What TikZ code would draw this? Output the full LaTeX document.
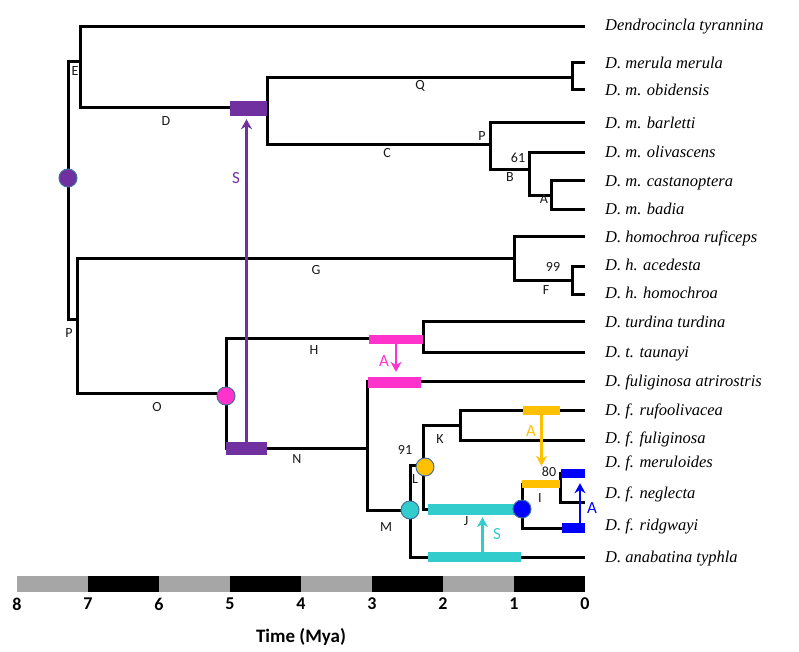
\documentclass[tikz,border=0pt]{standalone}
\usepackage{fontspec}
\setmainfont{Liberation Serif}
\newfontfamily\calfont{Carlito}
\usetikzlibrary{arrows.meta,shapes}
\definecolor{hgtpurple}{HTML}{7030A0}
\definecolor{hgtpink}{HTML}{FF33CC}
\definecolor{hgtgold}{HTML}{FFC000}
\definecolor{hgtteal}{HTML}{33CCCC}
\definecolor{hgtblue}{HTML}{0000FF}
\definecolor{rimblue}{HTML}{41719C}
\definecolor{bargray}{HTML}{A6A6A6}
\tikzstyle{branch}=[draw,line width=3pt,black]
\tikzstyle{taxon}=[anchor=west,inner sep=0pt,text height=11pt,text depth=0pt,font=\fontsize{16.5}{18}\selectfont\itshape]
\tikzstyle{blabel}=[inner sep=0pt,text=black!90,font=\calfont\fontsize{14}{15}\selectfont]
\tikzstyle{hlabel}=[inner sep=0pt,font=\calfont\fontsize{17}{18}\selectfont]
\tikzstyle{event}=[circle,draw=rimblue,line width=1pt,minimum size=18pt,inner sep=0pt]
\tikzstyle{transfer}=[rectangle,inner sep=0pt,draw=none]
\tikzstyle{hgt}=[line width=2.5pt,-{Stealth[length=10pt,width=11pt]}]

\begin{document}
\begin{tikzpicture}[x=1pt,y=-1pt]
    \useasboundingbox (0,0) rectangle (799,651);
    % Tips of the tree and their names
    \foreach \ty/\ly/\name/\txt in {26/25/t1/{Dendrocincla tyrannina}, 62/63/t2/{D. merula merula},
        89/90/t3/{D. m. obidensis}, 122/123/t4/{D. m. barletti}, 152/152/t5/{D. m. olivascens},
        180/181/t6/{D. m. castanoptera}, 209/209/t7/{D. m. badia}, 236/237/t8/{D. homochroa ruficeps},
        266/265/t9/{D. h. acedesta}, 294/293/t10/{D. h. homochroa}, 321/322/t11/{D. turdina turdina},
        352/352/t12/{D. t. taunayi}, 381/381/t13/{D. fuliginosa atrirostris}, 410/410/t14/{D. f. rufoolivacea},
        440/438/t15/{D. f. fuliginosa}, 473/462/t16/{D. f. meruloides}, 502/493/t17/{D. f. neglecta},
        528/525/t18/{D. f. ridgwayi}, 557/557/t19/{D. anabatina typhla}}
    {
        \coordinate (\name) at (585,\ty);
        \node[taxon] (l\name) at (605,\ly) {\txt};
    }
    % Inner nodes
    \coordinate (root) at (68,178);
    \coordinate (nE) at (80,61);
    \coordinate (nD) at (267,107);
    \coordinate (nQ) at (572,77);
    \coordinate (nC) at (490,144);
    \coordinate (nB) at (529,169);
    \coordinate (nA) at (551,195);
    \coordinate (nP) at (77,319);
    \coordinate (nG) at (514,258);
    \coordinate (nF) at (572,280);
    \coordinate (nO) at (226,393);
    \coordinate (nH) at (423,338);
    \coordinate (nN) at (367,448);
    \coordinate (nM) at (410,510);
    \coordinate (nL) at (423,465);
    \coordinate (nK) at (460,425);
    \coordinate (nI) at (522,509);
    \coordinate (nX) at (560,484);
    % Branches
    \path[branch] (root) |- (nE) (root) |- (nP)
        (nE) |- (t1) (nE) |- (nD) (nD) |- (nQ) (nD) |- (nC)
        (nQ) |- (t2) (nQ) |- (t3) (nC) |- (t4) (nC) |- (nB)
        (nB) |- (t5) (nB) |- (nA) (nA) |- (t6) (nA) |- (t7)
        (nP) |- (nG) (nP) |- (nO) (nG) |- (t8) (nG) |- (nF)
        (nF) |- (t9) (nF) |- (t10) (nO) |- (nH) (nO) |- (nN)
        (nH) |- (t11) (nH) |- (t12) (nN) |- (t13) (nN) |- (nM)
        (nM) |- (nL) (nM) |- (t19) (nL) |- (nK) (nL) |- (nI)
        (nK) |- (t14) (nK) |- (t15) (nI) |- (nX) (nI) |- (t18)
        (nX) |- (t16) (nX) |- (t17);
    % Branch labels and support values
    \foreach \pos/\name/\txt in {{(75,71)/bE/E}, {(166,121)/bD/D}, {(420,86)/bQ/Q}, {(387,153)/bC/C},
        {(482,136)/bP/P}, {(518,158)/s61/61}, {(510,177)/bB/B}, {(544,199)/bA/A}, {(316,270)/bG/G},
        {(553,267)/s99/99}, {(546,290)/bF/F}, {(69,333)/bPP/P}, {(314,350)/bH/H}, {(157,407)/bO/O},
        {(297,459)/bN/N}, {(386,527)/bM/M}, {(405,450)/s91/91}, {(415,479)/bL/L}, {(440,439)/bK/K},
        {(466,521)/bJ/J}, {(540,498)/bI/I}, {(549,472)/s80/80}}
        \node[blabel] (\name) at \pos {\txt};
    % Transfer bars
    \foreach \pos/\w/\h/\col/\name in {{(248.5,108.5)/37/15/hgtpurple/pD}, {(246.5,448.5)/41/13/hgtpurple/pN},
        {(396,339.5)/54/9/hgtpink/mH}, {(394.5,382.5)/53/11/hgtpink/mF}, {(541.5,410.5)/37/9/hgtgold/gK},
        {(541,484)/38/8/hgtgold/gI}, {(573,473.5)/24/9/hgtblue/bM}, {(573.5,528)/23/10/hgtblue/bR},
        {(475,509.5)/94/11/hgtteal/cJ}, {(474.5,557)/93/10/hgtteal/cT}}
        \node[transfer,fill=\col,minimum width=\w pt,minimum height=\h pt] (\name) at \pos {};
    % Transfer arrows
    \draw[hgt,hgtpurple,shorten >=3pt] (pN.north) -- (pN.north |- pD.south);
    \draw[hgt,hgtpink,shorten >=5pt] (mH.south) -- (mH.south |- mF.north);
    \draw[hgt,hgtgold,shorten >=14pt] (gK.south) -- (gK.south |- gI.north);
    \draw[hgt,hgtblue,shorten >=5pt] ([xshift=6.5pt]bR.north) -- ([xshift=6.5pt]bR.north |- bM.south);
    \draw[hgt,hgtteal,shorten >=2pt] ([xshift=8pt]cT.north) -- ([xshift=8pt]cT.north |- cJ.south);
    \foreach \pos/\col/\name/\txt in {{(236,178)/hgtpurple/hS1/S}, {(384,361)/hgtpink/hA1/A},
        {(531,431)/hgtgold/hA2/A}, {(592,508)/hgtblue/hA3/A}, {(497,534)/hgtteal/hS2/S}}
        \node[hlabel,text=\col] (\name) at \pos {\txt};
    % Event circles
    \foreach \pos/\col/\name in {{(root)/hgtpurple/eRoot}, {(226,396)/hgtpink/eO}, {(nM)/hgtteal/eM},
        {(425,467)/hgtgold/eL}, {(nI)/hgtblue/eI}}
        \node[event,fill=\col] (\name) at \pos {};
    % Time axis
    \foreach \i/\col in {0/black, 1/bargray, 2/black, 3/bargray, 4/black, 5/bargray, 6/black, 7/bargray}
        \fill[\col] (514-71*\i,576) rectangle (585-71*\i,592);
    \foreach \k in {0,...,8}
        \node[inner sep=0pt,font=\calfont\bfseries\fontsize{18}{19}\selectfont] (tick\k) at (585-71*\k,604) {\k};
    \node[inner sep=0pt,font=\calfont\bfseries\fontsize{19}{20}\selectfont] (axis) at (301,637) {Time (Mya)};
\end{tikzpicture}
\end{document}
